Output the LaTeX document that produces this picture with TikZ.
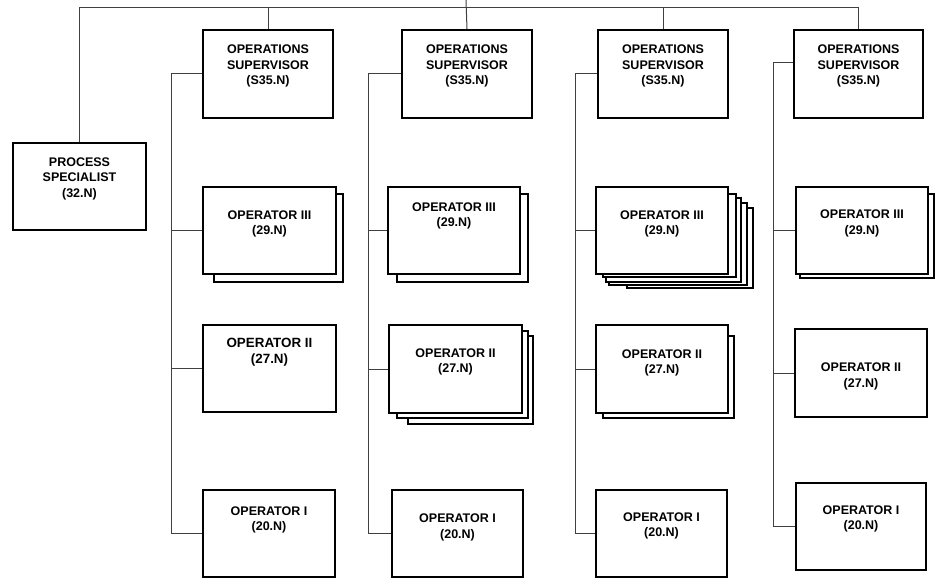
\documentclass[tikz,border=0pt]{standalone}
\usepackage{fontspec}
\setmainfont{Liberation Sans}
\usetikzlibrary{fit}
\begin{document}
\begin{tikzpicture}[x=1pt,y=-1pt,
  box/.style={draw=black, line width=1.8pt, fill=white, inner sep=0pt},
  thinbox/.style={draw=black, line width=1.1pt, fill=white, inner sep=0pt},
  backbox/.style={draw=black, line width=1.6pt, fill=white},
  conn/.style={draw=black!75, line width=1pt},
  txt/.style={font=\fontsize{12.5}{15.5}\selectfont\bfseries, align=center, inner sep=0pt},
  bigtxt/.style={font=\fontsize{13.4}{16.7}\selectfont\bfseries, align=center, inner sep=0pt}]
\useasboundingbox (0,0) rectangle (941,580);

% back boxes (stacked copies)
\draw[backbox] (214,194) rectangle (343,282);
\draw[backbox] (397,194) rectangle (528,282);
\draw[backbox] (408,336) rectangle (533,424);
\draw[backbox] (397,331) rectangle (528,418);
\draw[backbox] (627,208) rectangle (753,288);
\draw[backbox] (609,203) rectangle (747,285);
\draw[backbox] (606,198) rectangle (741,282);
\draw[backbox] (603,194) rectangle (736,277);
\draw[backbox] (603,336) rectangle (734,418);
\draw[backbox] (800,194) rectangle (934,278);

% front boxes
\node[box, fit={(13,143)(146,230)}] (ps) {};
\node[box, fit={(203,30)(333,118)}] (s1) {};
\node[box, fit={(402,30)(532,118)}] (s2) {};
\node[box, fit={(598,30)(728,118)}] (s3) {};
\node[box, fit={(794,30)(923,118)}] (s4) {};

\node[box, fit={(203,187)(336,274)}] (o13) {};
\node[box, fit={(203,325)(336,412)}] (o12) {};
\node[box, fit={(203,490)(335,577)}] (o11) {};

\node[box, fit={(388,187)(520,274)}] (o23) {};
\node[box, fit={(389,325)(522,413)}] (o22) {};
\node[thinbox, fit={(392,490)(523,577)}] (o21) {};

\node[box, fit={(596,187)(728,274)}] (o33) {};
\node[box, fit={(596,325)(728,413)}] (o32) {};
\node[box, fit={(596,490)(727,577)}] (o31) {};

\node[box, fit={(796,187)(928,274)}] (o43) {};
\node[thinbox, fit={(795,329)(927,417)}] (o42) {};
\node[thinbox, fit={(796,483)(926,570)}] (o41) {};

% texts
\node[txt] (tps) at (79.5,178.5) {PROCESS\\SPECIALIST\\(32.N)};
\node[txt] (ts1) at (268,66) {OPERATIONS\\SUPERVISOR\\(S35.N)};
\node[txt] (ts2) at (467,66) {OPERATIONS\\SUPERVISOR\\(S35.N)};
\node[txt] (ts3) at (663,66) {OPERATIONS\\SUPERVISOR\\(S35.N)};
\node[txt] (ts4) at (858.5,66) {OPERATIONS\\SUPERVISOR\\(S35.N)};

\node[txt] (t13) at (269.5,223.7) {OPERATOR III\\(29.N)};
\node[bigtxt] (t12) at (269.5,352.3) {OPERATOR II\\(27.N)};
\node[txt] (t11) at (269,520) {OPERATOR I\\(20.N)};

\node[txt] (t23) at (454,215.8) {OPERATOR III\\(29.N)};
\node[txt] (t22) at (455.5,361.7) {OPERATOR II\\(27.N)};
\node[txt] (t21) at (457.5,527.5) {OPERATOR I\\(20.N)};

\node[txt] (t33) at (662,223.7) {OPERATOR III\\(29.N)};
\node[txt] (t32) at (662,362.7) {OPERATOR II\\(27.N)};
\node[txt] (t31) at (661.5,526) {OPERATOR I\\(20.N)};

\node[txt] (t43) at (862,223.4) {OPERATOR III\\(29.N)};
\node[txt] (t42) at (861,376.5) {OPERATOR II\\(27.N)};
\node[txt] (t41) at (861,519) {OPERATOR I\\(20.N)};

% top connectors
\coordinate (top) at (466,0);
\coordinate (hl) at (0,8);
\draw[conn] (ps.north) -- (ps.north |- hl) -- (s4.north |- hl) -- (s4.north);
\draw[conn] (s1.north) -- (s1.north |- hl);
\draw[conn] (top) -- (s2.north);
\draw[conn] (s3.north) -- (s3.north |- hl);

% column buses
\coordinate (b1) at (171,74);
\coordinate (b2) at (368,74);
\coordinate (b3) at (575,74);
\coordinate (b4) at (773,63);

\draw[conn] (s1.west) -- (b1) -- (b1 |- o11.west) -- (o11.west);
\draw[conn] (b1 |- o13.west) -- (o13.west);
\draw[conn] (b1 |- o12.west) -- (o12.west);

\draw[conn] (s2.west) -- (b2) -- (b2 |- o21.west) -- (o21.west);
\draw[conn] (b2 |- o23.west) -- (o23.west);
\draw[conn] (b2 |- o22.west) -- (o22.west);

\draw[conn] (s3.west) -- (b3) -- (b3 |- o31.west) -- (o31.west);
\draw[conn] (b3 |- o33.west) -- (o33.west);
\draw[conn] (b3 |- o32.west) -- (o32.west);

\draw[conn] (b4 -| s4.west) -- (b4) -- (b4 |- o41.west) -- (o41.west);
\draw[conn] (b4 |- o43.west) -- (o43.west);
\draw[conn] (b4 |- o42.west) -- (o42.west);
\end{tikzpicture}
\end{document}
